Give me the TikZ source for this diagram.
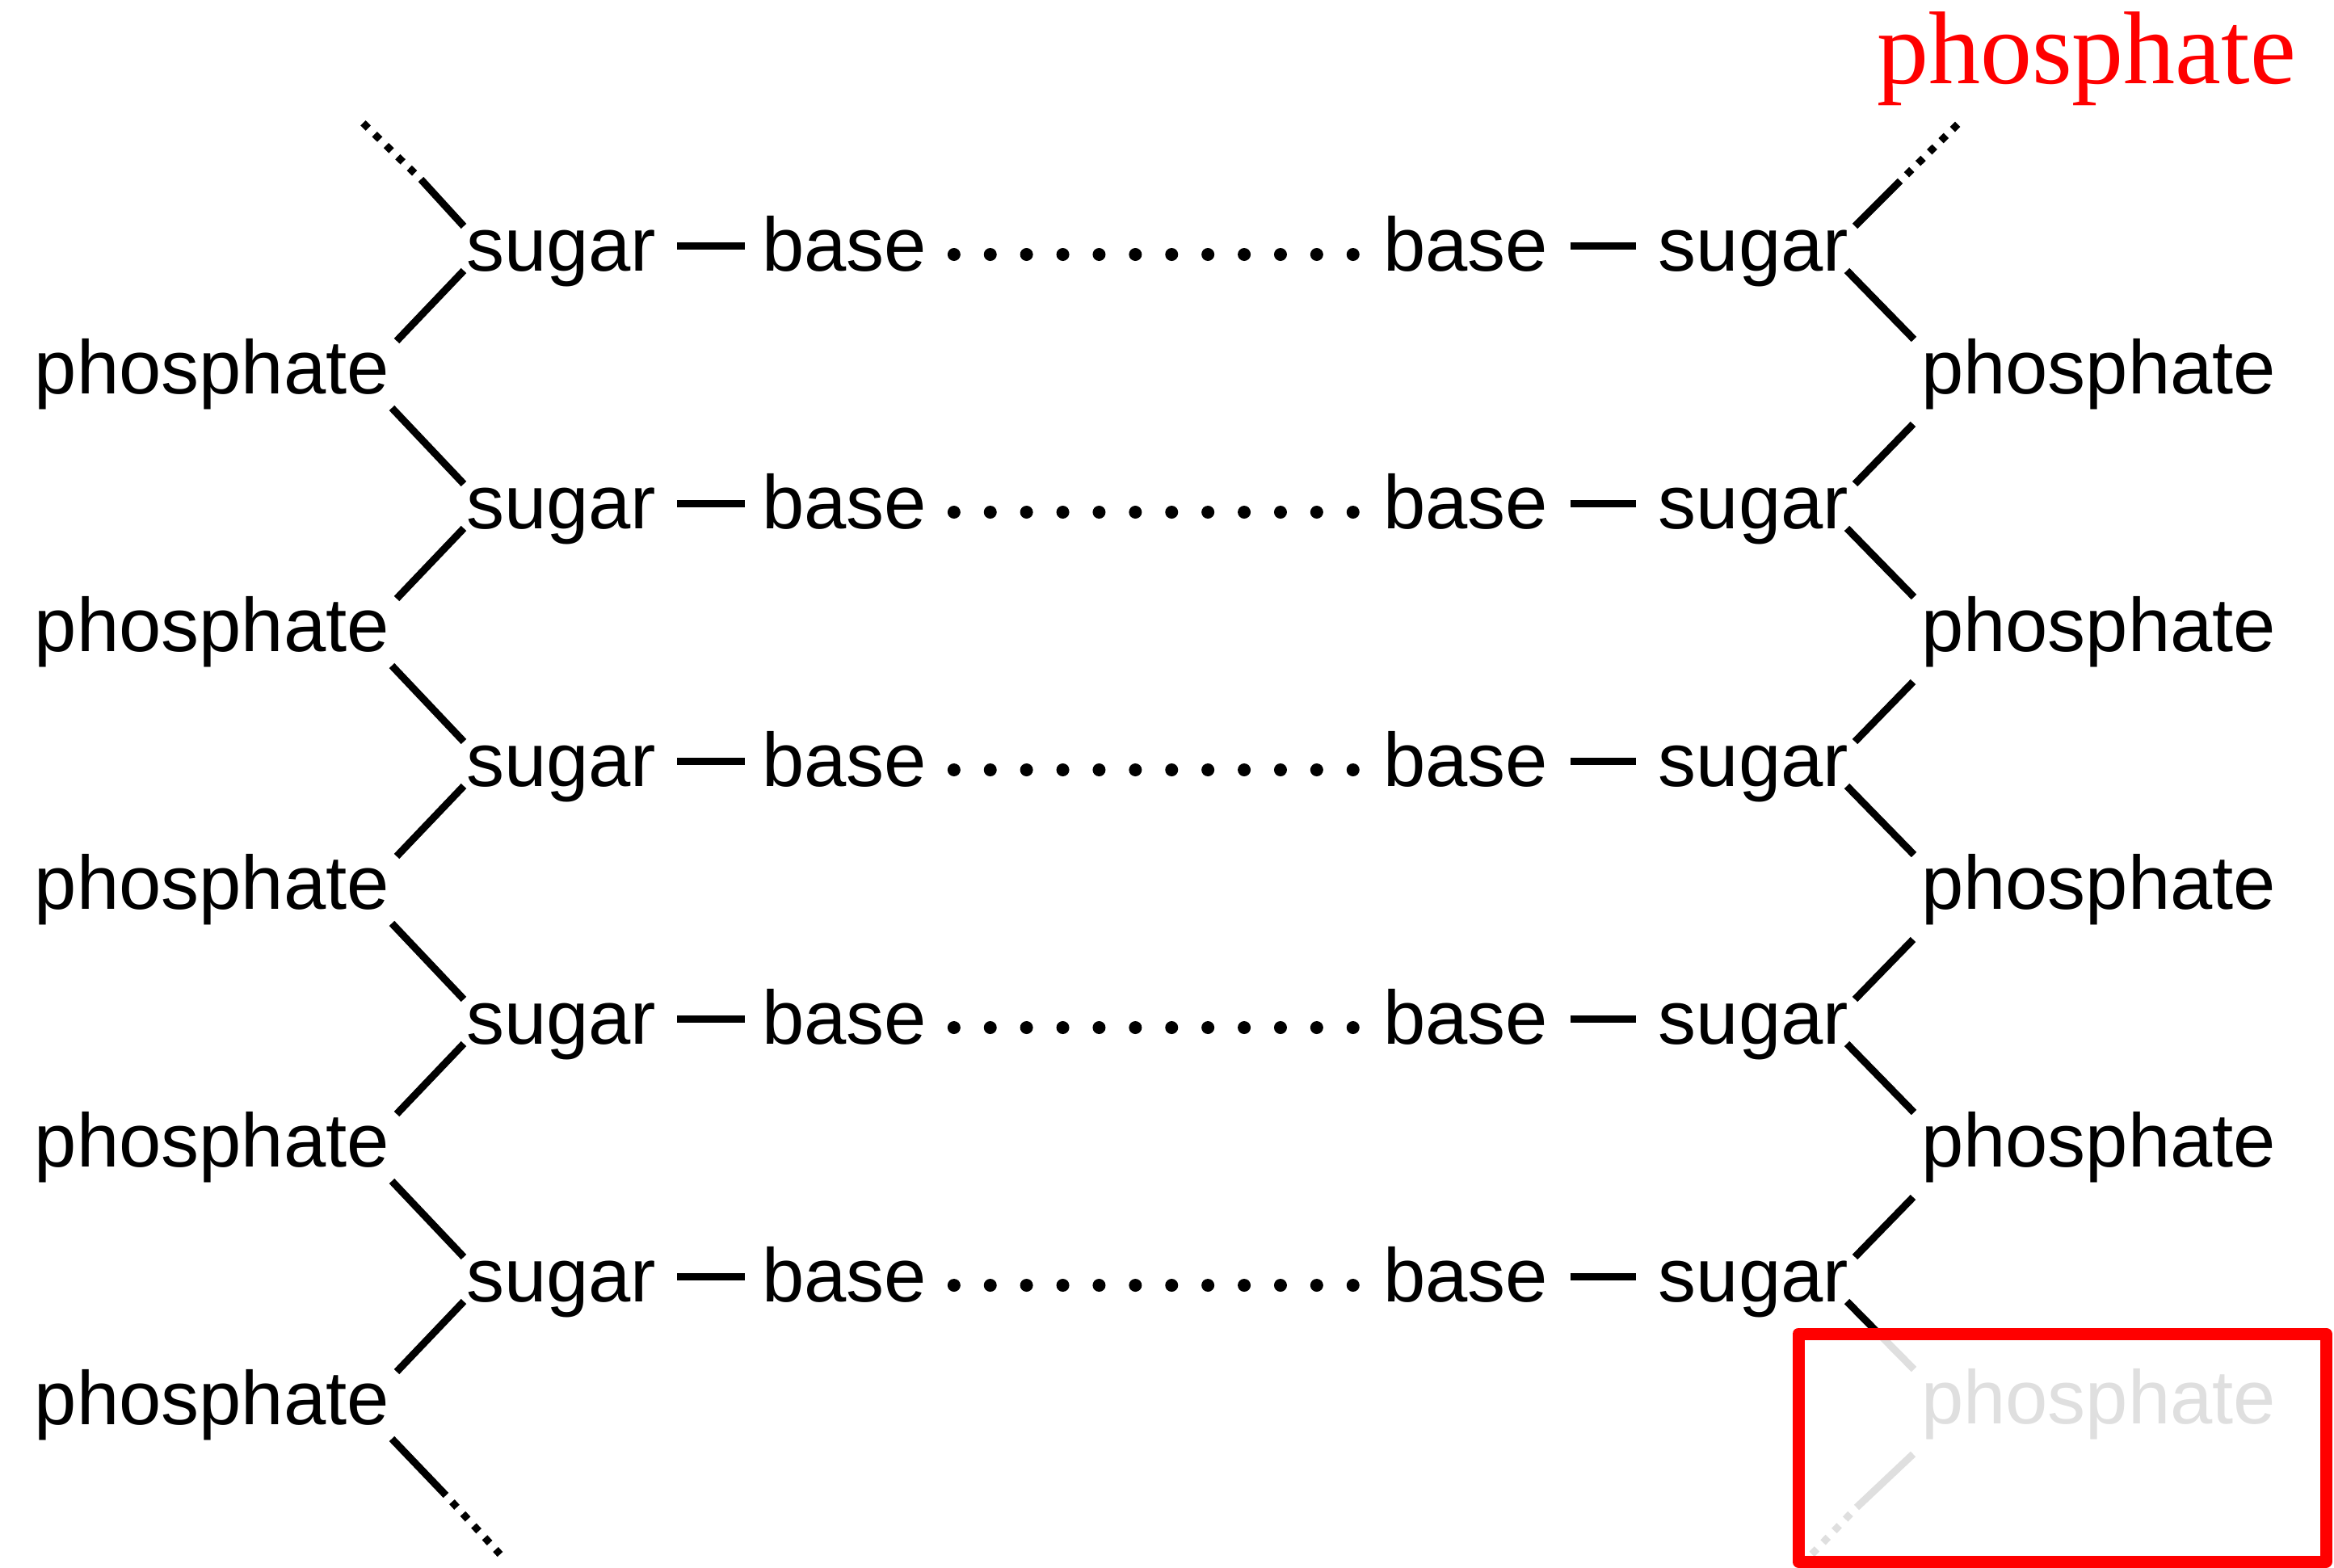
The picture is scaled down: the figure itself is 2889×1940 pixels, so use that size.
\documentclass[tikz,border=0pt]{standalone}
\usepackage{fontspec}
\setmainfont{Liberation Sans}
\newfontfamily\serifred{Liberation Serif}
\definecolor{fadegray}{gray}{0.875}
\begin{document}
\begin{tikzpicture}[x=0.25pt,y=-0.25pt,
  lbl/.style={inner sep=0pt,outer sep=0pt,font=\fontsize{23.5}{28}\selectfont},
  bond/.style={line width=2.25pt},
  dotbond/.style={line width=2.25pt, dash pattern=on 2.25pt off 2.75pt, dash phase=2.25pt},
  hbond/.style={line width=4pt, line cap=round, dash pattern=on 0pt off 11.225pt},
  faded/.style={color=fadegray, text=fadegray},
  ]
\useasboundingbox (0,0) rectangle (2889,1940);
\fill[white] (0,0) rectangle (2889,1940);

\foreach \i in {0,...,4}{
  \pgfmathsetmacro{\S}{335+319*\i}
  \pgfmathsetmacro{\P}{487+319*\i}
  \node[lbl, anchor=base west] (ls\i) at (577,\S) {sugar};
  \node[lbl, anchor=base west] (lb\i) at (943,\S) {base};
  \node[lbl, anchor=base west] (rb\i) at (1712,\S) {base};
  \node[lbl, anchor=base east] (rs\i) at (2288,\S) {sugar};
  \node[lbl, anchor=base east] (lp\i) at (482,\P) {phosphate};
  \draw[bond] ([shift={(26,-31)}]ls\i.base east) -- ([shift={(-21,-31)}]lb\i.base west);
  \draw[bond] ([shift={(28,-31)}]rb\i.base east) -- ([shift={(-28,-31)}]rs\i.base west);
  \draw[hbond] ([shift={(34,-20)}]lb\i.base east) -- ([shift={(-36.5,-20)}]rb\i.base west);
  \draw[bond] ([shift={(-3,0)}]ls\i.base west) -- ([shift={(9,-65)}]lp\i.base east);
}
\foreach \i in {0,...,3}{
  \pgfmathsetmacro{\P}{487+319*\i}
  \node[lbl, anchor=base west] (rp\i) at (2378,\P) {phosphate};
}
\foreach \i/\j in {0/1,1/2,2/3,3/4}{
  \draw[bond] ([shift={(3,18)}]lp\i.base east) -- ([shift={(-3,-55)}]ls\j.base west);
  \draw[bond] ([shift={(-2,0)}]rs\i.base east) -- ([shift={(-9,-67)}]rp\i.base west);
  \draw[bond] ([shift={(-10,38)}]rp\i.base west) -- ([shift={(8,-55)}]rs\j.base east);
}
% faded last right phosphate
\node[lbl, faded, anchor=base west] (rp4) at (2378,1762) {phosphate};
\begin{scope}
  \clip (0,0) rectangle (2889,1651);
  \draw[bond] ([shift={(-2,0)}]rs4.base east) -- ([shift={(-9,-67)}]rp4.base west);
\end{scope}
\begin{scope}
  \clip (0,1651) rectangle (2889,1940);
  \draw[bond, fadegray] ([shift={(-2,0)}]rs4.base east) -- ([shift={(-9,-67)}]rp4.base west);
\end{scope}

% chain ends
\coordinate (tl1) at (521,222);
\coordinate (tl0) at (445,148);
\draw[bond] ([shift={(-3,-55)}]ls0.base west) -- (tl1);
\draw[dotbond] (tl1) -- (tl0);

\coordinate (bl1) at (552,1851);
\coordinate (bl0) at (619,1924);
\draw[bond] ([shift={(3,18)}]lp4.base east) -- (bl1);
\draw[dotbond] (bl1) -- (bl0);

\coordinate (tr1) at (2352,224);
\coordinate (tr0) at (2425,152);
\draw[bond] ([shift={(8,-55)}]rs0.base east) -- (tr1);
\draw[dotbond] (tr1) -- (tr0);

\coordinate (br1) at (2298,1866);
\coordinate (br0) at (2233,1934);
\draw[bond, fadegray] ([shift={(-10,38)}]rp4.base west) -- (br1);
\draw[dotbond, fadegray] (br1) -- (br0);

% red label and box
\node[inner sep=0pt, outer sep=0pt, anchor=base west, text=red,
  font=\serifred\fontsize{32}{38}\selectfont] (title) at (2323,103) {phosphate};
\draw[line width=3.75pt, red, line join=round] (2226,1651) rectangle (2879,1933);
\end{tikzpicture}
\end{document}
